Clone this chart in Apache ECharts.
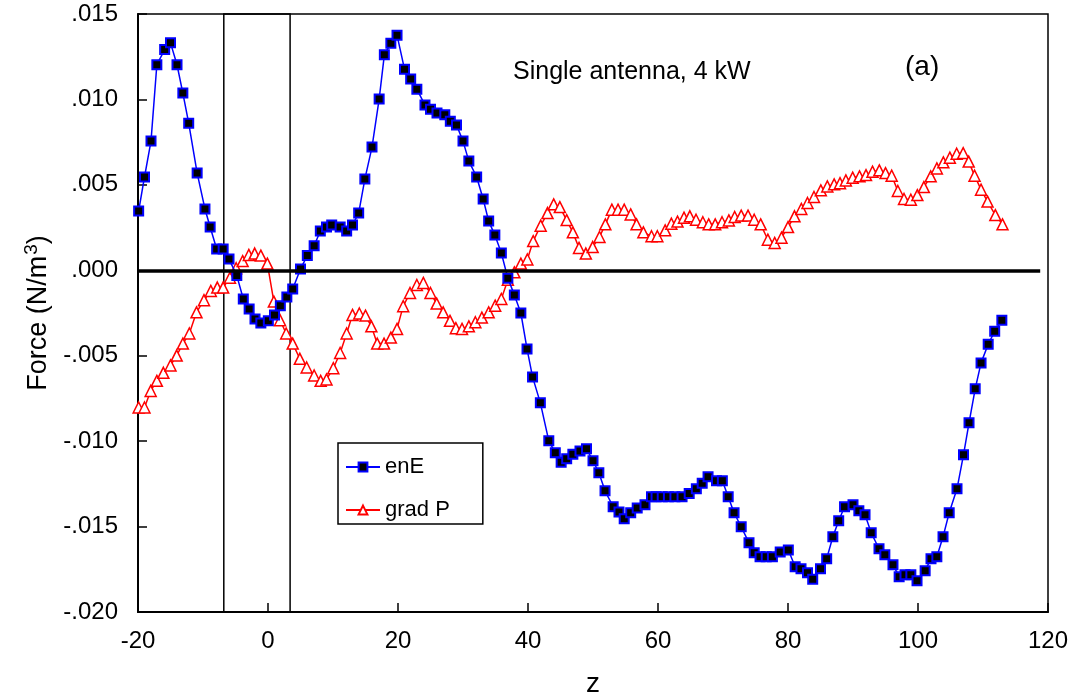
<!DOCTYPE html>
<html>
<head>
<meta charset="utf-8">
<script src="https://cdn.jsdelivr.net/npm/echarts@6/dist/echarts.min.js"></script>
<style>
html,body{margin:0;padding:0;background:#fff;}
#chart{width:1073px;height:698px;}
</style>
</head>
<body>
<div id="chart"></div>
<script>
// ---- data ----
const zEnE = [-19.9,-19.0,-18.0,-17.1,-15.9,-15.0,-14.0,-13.1,-12.2,-10.9,-9.7,-8.9,-7.9,-6.9,-6.0,-4.8,-3.8,-2.9,-2.0,-1.1,0.05,1.0,1.9,2.9,3.8,5.0,6.05,7.1,8.05,9.0,9.8,11.1,12.1,13.0,13.95,14.9,16.0,17.1,17.9,18.9,19.85,21.0,21.95,22.9,24.15,25.0,26.0,27.2,28.05,29.0,30.0,30.9,32.1,33.1,33.95,34.9,35.9,36.9,37.9,38.9,39.85,40.7,41.9,43.2,44.2,45.1,45.95,46.9,48.0,49.0,50.0,50.9,51.85,53.1,54.0,54.8,55.8,56.8,58.0,59.0,59.7,60.65,61.6,62.6,63.7,64.8,65.9,66.8,67.7,69.0,69.9,70.8,71.7,72.8,74.0,74.8,75.7,76.65,77.6,78.8,80.05,81.1,82.0,83.0,83.8,85.0,85.95,86.9,87.8,88.7,90.0,90.9,91.85,92.8,94.0,94.9,96.15,97.1,98.0,98.9,99.85,101.1,102.0,102.9,103.85,104.8,106.0,107.0,107.85,108.8,109.7,110.8,111.8,112.9];
const enE = [0.00347,0.00546,0.00756,0.01203,0.01292,0.01331,0.01203,0.01037,0.00861,0.00569,0.00359,0.00253,0.00125,0.00125,0.00066,-0.00031,-0.00168,-0.00226,-0.00285,-0.00308,-0.00296,-0.00261,-0.00207,-0.00156,-0.00109,0.00008,0.00086,0.00144,0.0023,0.00253,0.00265,0.00253,0.0023,0.00265,0.00335,0.00534,0.00721,0.01002,0.01261,0.01329,0.01376,0.01177,0.01119,0.0106,0.00967,0.00943,0.0092,0.0091,0.00873,0.0085,0.00756,0.00639,0.00546,0.00417,0.00288,0.00206,0.00101,-0.00047,-0.00144,-0.0025,-0.0046,-0.00624,-0.00776,-0.00998,-0.01068,-0.01123,-0.01103,-0.01076,-0.01057,-0.01045,-0.01115,-0.01185,-0.01291,-0.01384,-0.01415,-0.01454,-0.01419,-0.01392,-0.01372,-0.01326,-0.01326,-0.01326,-0.01326,-0.01326,-0.01326,-0.01306,-0.01279,-0.01247,-0.01209,-0.01232,-0.01232,-0.01326,-0.01419,-0.01501,-0.01595,-0.01653,-0.01677,-0.01677,-0.01677,-0.01649,-0.01637,-0.01735,-0.01747,-0.0177,-0.01809,-0.01747,-0.01688,-0.0156,-0.01466,-0.01384,-0.01372,-0.01408,-0.01431,-0.01536,-0.0163,-0.01665,-0.01723,-0.01794,-0.01782,-0.01782,-0.01817,-0.01758,-0.01688,-0.01677,-0.0156,-0.01419,-0.01279,-0.0108,-0.00893,-0.00694,-0.00542,-0.00433,-0.00357,-0.00292];

const zGradP = [-19.9,-19.0,-18.05,-17.1,-16.1,-15.0,-14.05,-13.1,-12.1,-11.0,-9.85,-8.8,-7.8,-6.9,-5.85,-4.9,-3.9,-2.95,-2.05,-1.1,-0.1,0.9,1.85,2.8,3.8,4.9,5.95,7.1,8.1,9.0,10.05,11.1,12.1,13.0,14.05,15.0,15.9,16.8,17.85,18.9,19.85,20.8,21.85,22.9,23.9,25.0,25.95,26.95,28.0,28.9,29.85,30.9,31.9,32.9,33.95,34.95,35.9,36.9,37.9,38.9,39.9,40.8,41.95,43.0,43.95,44.9,45.95,46.9,47.85,48.9,49.95,51.0,51.9,52.9,53.85,54.8,55.8,56.7,57.75,59.0,59.9,61.1,62.05,63.0,64.0,64.9,65.85,66.9,67.8,68.8,69.85,70.9,71.8,72.8,73.85,74.8,75.8,76.9,77.95,79.0,80.0,81.0,82.05,83.0,84.0,85.05,86.05,87.1,88.0,88.9,89.95,91.0,92.0,93.0,94.05,95.0,95.95,96.9,97.85,98.9,99.9,100.9,101.95,102.9,103.9,104.9,105.95,106.95,107.8,108.7,109.7,110.7,111.9,113.0];
const gradP = [-0.00803,-0.00803,-0.00706,-0.00647,-0.006,-0.00557,-0.00499,-0.00429,-0.0037,-0.00246,-0.00175,-0.00121,-0.00101,-0.00101,-0.00043,0.00012,0.00054,0.0009,0.00098,0.00086,0.00039,-0.00183,-0.00292,-0.0037,-0.00429,-0.00518,-0.00569,-0.00616,-0.00647,-0.00639,-0.00573,-0.00484,-0.0037,-0.00261,-0.00253,-0.00265,-0.00328,-0.00429,-0.00429,-0.00394,-0.00343,-0.0021,-0.00133,-0.00086,-0.00074,-0.00133,-0.00195,-0.00246,-0.00296,-0.00339,-0.00343,-0.00328,-0.00304,-0.00277,-0.00246,-0.00207,-0.00168,-0.00055,-0.00012,0.00039,0.00063,0.00171,0.00261,0.00335,0.00386,0.0037,0.00294,0.00222,0.00131,0.00098,0.00136,0.00195,0.00269,0.00355,0.00355,0.00355,0.00327,0.00269,0.00222,0.00199,0.00199,0.00234,0.00273,0.00285,0.00308,0.00316,0.00296,0.00281,0.00269,0.00269,0.00281,0.00292,0.00312,0.0032,0.0032,0.00296,0.00269,0.00179,0.0016,0.00191,0.00253,0.00316,0.00359,0.00394,0.00429,0.00468,0.00491,0.00503,0.0051,0.00526,0.00542,0.0055,0.00557,0.00577,0.00585,0.00569,0.00554,0.00464,0.00417,0.00413,0.0044,0.00487,0.0055,0.00596,0.00632,0.00659,0.00682,0.00686,0.00636,0.00554,0.00472,0.00402,0.00323,0.00269];

const seriesNames = ['enE', 'grad P'];
const xTicks = {min: -20, max: 120, interval: 20};
const yTicks = {min: -0.020, max: 0.015, interval: 0.005};
const boxRange = [-6.8, 3.4];       // rectangle marking the antenna region (z)
const zeroLineRange = [-20, 118.8]; // horizontal reference line at F = 0
const annotation = 'Single antenna, 4 kW';
const panelLabel = '(a)';
const xTitle = 'z';

// ---- chart ----
const FONT = 'Liberation Sans, Arial, sans-serif';
const pairs = (xs, ys) => xs.map((x, i) => [x, ys[i]]);
const fmtY = v => {
  const s = Math.abs(v).toFixed(3).replace(/^0/, '');
  return (v < -1e-9 ? '-' : '') + s;
};

const chart = echarts.init(document.getElementById('chart'), null, {renderer: 'canvas'});
chart.setOption({
  animation: false,
  backgroundColor: '#fff',
  grid: {left: 138, top: 14, width: 910, height: 598, containLabel: false, outerBoundsMode: 'none',
         show: true, borderColor: '#000', borderWidth: 1.5, backgroundColor: 'transparent'},
  xAxis: {
    type: 'value', min: xTicks.min, max: xTicks.max, interval: xTicks.interval,
    name: xTitle, nameLocation: 'middle', nameGap: 58,
    nameTextStyle: {fontFamily: FONT, fontSize: 28, color: '#000'},
    axisLine: {show: true, onZero: false, lineStyle: {color: '#000', width: 2}},
    axisTick: {show: true, inside: true, length: 9, lineStyle: {color: '#000', width: 1.5}},
    axisLabel: {fontFamily: FONT, fontSize: 24, color: '#000', margin: 17},
    splitLine: {show: false}
  },
  yAxis: {
    type: 'value', min: yTicks.min, max: yTicks.max, interval: yTicks.interval,
    name: 'Force (N/m{sup|3})', nameLocation: 'middle', nameGap: 69, nameRotate: 90,
    nameTextStyle: {fontFamily: FONT, fontSize: 27, color: '#000',
      rich: {sup: {fontFamily: FONT, fontSize: 19, color: '#000', verticalAlign: 'top', padding: [0, 0, 14, 1]}}},
    axisLine: {show: true, onZero: false, lineStyle: {color: '#000', width: 2}},
    axisTick: {show: true, inside: true, length: 9, lineStyle: {color: '#000', width: 1.5}},
    axisLabel: {fontFamily: FONT, fontSize: 24, color: '#000', margin: 20, formatter: fmtY},
    splitLine: {show: false}
  },
  legend: {
    orient: 'vertical', left: 338, top: 443,
    padding: [13, 33, 3, 7], itemGap: 21, itemWidth: 34, itemHeight: 11,
    borderColor: '#000', borderWidth: 1.5, backgroundColor: '#fff',
    textStyle: {fontFamily: FONT, fontSize: 22, color: '#000'},
    data: seriesNames
  },
  graphic: [
    {type: 'text', left: 513, top: 60, style: {text: annotation, fontFamily: FONT, fontSize: 25, fill: '#000'}},
    {type: 'text', left: 905, top: 53, style: {text: panelLabel, fontFamily: FONT, fontSize: 28, fill: '#000'}}
  ],
  series: [
    {
      name: seriesNames[0], type: 'line', data: pairs(zEnE, enE), z: 3,
      symbol: 'rect', symbolSize: 9,
      lineStyle: {color: '#0000ff', width: 1.5},
      itemStyle: {color: '#000', borderColor: '#0000ff', borderWidth: 2},
      markLine: {
        silent: true, symbol: 'none', label: {show: false},
        lineStyle: {color: '#000', width: 3.5, type: 'solid'},
        data: [[{coord: [zeroLineRange[0], 0]}, {coord: [zeroLineRange[1], 0]}]]
      },
      markArea: {
        silent: true, label: {show: false},
        itemStyle: {color: 'rgba(0,0,0,0)', borderColor: '#000', borderWidth: 1.5},
        data: [[{xAxis: boxRange[0], yAxis: yTicks.min}, {xAxis: boxRange[1], yAxis: yTicks.max}]]
      }
    },
    {
      name: seriesNames[1], type: 'line', data: pairs(zGradP, gradP), z: 2,
      symbol: 'triangle', symbolSize: 11,
      lineStyle: {color: '#ff0000', width: 1.5},
      itemStyle: {color: '#fff', borderColor: '#ff0000', borderWidth: 1.5}
    }
  ]
});
</script>
</body>
</html>
